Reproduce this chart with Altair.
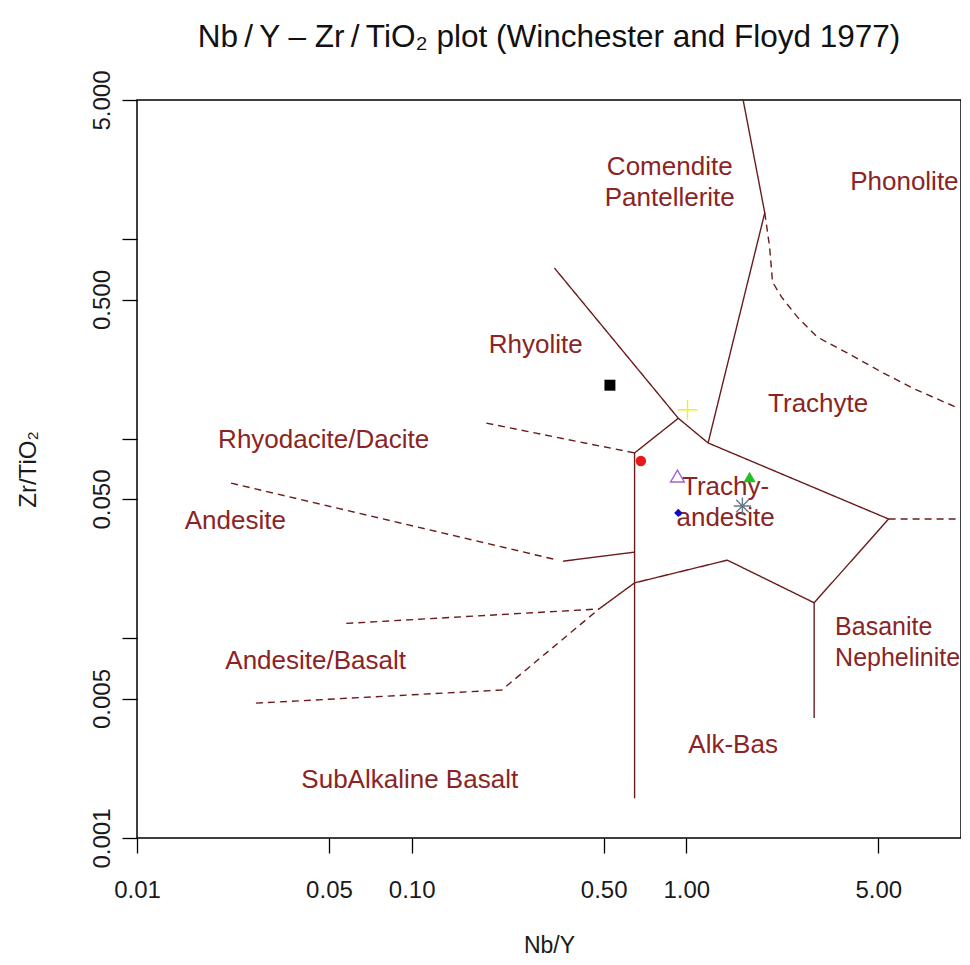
import altair as alt
import pandas as pd

# ---------------- boundary lines (Nb/Y, Zr/TiO2) ----------------
seg_names = ["rhyolite", "comendite", "subalk_vert", "andesite_solid", "alk_upper",
             "basanite_vert", "rhyodacite", "andesite", "andbas_upper", "andbas_lower",
             "trachyand_right", "phonolite"]
seg_styles = ["solid", "solid", "solid", "solid", "solid",
              "solid", "dashed", "dashed", "dashed", "dashed",
              "dashed", "dashed"]
seg_x = [
    [0.331, 0.935, 1.20],
    [1.20, 1.93, 1.61],
    [0.935, 0.648, 0.648],
    [0.356, 0.648],
    [0.481, 0.648, 1.41, 2.92, 5.45, 1.20],
    [2.92, 2.92],
    [0.187, 0.648],
    [0.0220, 0.328],
    [0.0578, 0.481],
    [0.0271, 0.213, 0.481],
    [5.45, 10.0],
    [1.93, 2.01, 2.06, 2.22, 2.54, 3.00, 3.85, 5.22, 6.89, 9.75],
]
seg_y = [
    [0.719, 0.127, 0.0955],
    [0.0955, 1.36, 5.0],
    [0.127, 0.0851, 0.00158],
    [0.0244, 0.0271],
    [0.01406, 0.0190, 0.0247, 0.0151, 0.0397, 0.0955],
    [0.0151, 0.00399],
    [0.120, 0.0851],
    [0.0601, 0.0250],
    [0.0119, 0.01406],
    [0.00474, 0.00552, 0.01406],
    [0.0397, 0.0397],
    [1.36, 0.917, 0.612, 0.515, 0.408, 0.324, 0.270, 0.214, 0.176, 0.143],
]

# ---------------- samples ----------------
pt_x = [0.527, 1.01, 0.683, 0.928, 1.70, 0.935, 1.60]
pt_y = [0.186, 0.140, 0.0775, 0.0652, 0.0645, 0.0426, 0.0461]
pt_shape = ["square", "M-1,0L1,0M0,-1L0,1", "circle", "triangle-up", "triangle-up", "diamond",
            "M-1,0L1,0M0,-1L0,1M-0.72,-0.72L0.72,0.72M-0.72,0.72L0.72,-0.72"]
pt_color = ["#000000", "#f0f020", "#e81818", "#a860c8", "#22c022", "#0a0ad0", "#6a7888"]
pt_size = [120, 380, 110, 190, 150, 70, 300]
pt_filled = [True, False, True, False, True, True, False]

# ---------------- field labels (y = first line for multi-line labels) ----------------
lab_text = ["Comendite\nPantellerite", "Phonolite", "Rhyolite", "Trachyte", "Rhyodacite/Dacite",
            "Andesite", "Trachy-\nandesite", "Andesite/Basalt", "Alk-Bas", "SubAlkaline Basalt"]
lab_x = [0.87, 6.22, 0.283, 3.02, 0.0478, 0.0228, 1.39, 0.0447, 1.48, 0.0984]
lab_y = [2.31, 1.94, 0.296, 0.150, 0.0989, 0.0388, 0.0574, 0.00771, 0.00292, 0.00195]
labl_text = ["Basanite\nNephelinite"]
labl_x = [3.48]
labl_y = [0.0114]

title_text = ["Nb\u2009/\u2009Y – Zr\u2009/\u2009TiO₂ plot (Winchester and Floyd 1977)"]

x_ticks = [0.01, 0.05, 0.1, 0.5, 1, 5]
y_ticks = [0.001, 0.005, 0.01, 0.05, 0.1, 0.5, 1, 5]

rows = []
for n, s, xs, ys in zip(seg_names, seg_styles, seg_x, seg_y):
    for i, (a, b) in enumerate(zip(xs, ys)):
        rows.append({"seg": n, "style": s, "ord": i, "x": a, "y": b})
lines_df = pd.DataFrame(rows)

pts_df = pd.DataFrame({"x": pt_x, "y": pt_y, "shape": pt_shape, "color": pt_color,
                       "size": pt_size, "filled": pt_filled})
lab_df = pd.DataFrame({"x": lab_x, "y": lab_y, "text": lab_text})
labl_df = pd.DataFrame({"x": labl_x, "y": labl_y, "text": labl_text})
title_df = pd.DataFrame({"t": title_text})

FONT = "Liberation Sans"
W, H = 824, 738
xscale = alt.Scale(type="log", domain=[0.01, 10], nice=False, zero=False)
yscale = alt.Scale(type="log", domain=[0.001, 5], nice=False, zero=False)

xaxis = alt.Axis(values=x_ticks, labelExpr="format(datum.value, '.2f')", title="Nb/Y",
                 grid=False, domain=False, tickSize=15, tickColor="black", tickWidth=1.3,
                 labelFont=FONT, labelFontSize=24, labelColor="#1a1a1a", labelPadding=25,
                 titleFont=FONT, titleFontSize=23, titleFontWeight="normal", titleColor="#1a1a1a",
                 titlePadding=32, labelFlush=False, labelOverlap=False)
yaxis = alt.Axis(values=y_ticks,
                 labelExpr="(datum.value == 0.001 || datum.value == 0.005 || datum.value == 0.05 || datum.value == 0.5 || datum.value == 5) ? format(datum.value, '.3f') : ''",
                 title="Zr/TiO₂", grid=False, domain=False, tickSize=15, tickColor="black", tickWidth=1.3,
                 labelFont=FONT, labelFontSize=24, labelColor="#1a1a1a", labelPadding=8,
                 labelAngle=270, labelAlign="center", labelBaseline="bottom",
                 titleFont=FONT, titleFontSize=24, titleFontWeight="normal", titleColor="#1a1a1a",
                 titlePadding=50, labelFlush=False, labelOverlap=False)

X = alt.X("x:Q", scale=xscale, axis=xaxis)
Y = alt.Y("y:Q", scale=yscale, axis=yaxis)
Xn = alt.X("x:Q", scale=xscale)
Yn = alt.Y("y:Q", scale=yscale)

line_layer = alt.Chart(lines_df).mark_line(color="#6a1c1c", strokeWidth=1.4).encode(
    x=X, y=Y, detail="seg:N", order="ord:Q",
    strokeDash=alt.StrokeDash("style:N", scale=alt.Scale(domain=["solid", "dashed"],
                                                          range=[[1, 0], [7, 5]]), legend=None),
)

filled_layer = alt.Chart(pts_df).transform_filter("datum.filled").mark_point(
    filled=True, opacity=1).encode(
    x=Xn, y=Yn,
    shape=alt.Shape("shape:N", scale=None),
    color=alt.Color("color:N", scale=None),
    size=alt.Size("size:Q", scale=None),
)
open_layer = alt.Chart(pts_df).transform_filter("!datum.filled").mark_point(
    filled=False, opacity=1, strokeWidth=1.4).encode(
    x=Xn, y=Yn,
    shape=alt.Shape("shape:N", scale=None),
    color=alt.Color("color:N", scale=None),
    size=alt.Size("size:Q", scale=None),
)

text_layer = alt.Chart(lab_df).mark_text(font=FONT, fontSize=26, color="#8b2424",
                                         align="center", baseline="middle", lineHeight=31,
                                         lineBreak="\n").encode(
    x=Xn, y=Yn, text="text:N")
textl_layer = alt.Chart(labl_df).mark_text(font=FONT, fontSize=25, color="#8b2424",
                                           align="left", baseline="middle", lineHeight=31,
                                           lineBreak="\n").encode(
    x=Xn, y=Yn, text="text:N")

title_layer = alt.Chart(title_df).mark_text(font=FONT, fontSize=31.5, color="#111111",
                                            align="center", baseline="alphabetic").encode(
    x=alt.value(W / 2), y=alt.value(-53), text="t:N")

chart = alt.layer(line_layer, text_layer, textl_layer, filled_layer, open_layer,
                  title_layer).properties(
    width=W, height=H,
    autosize=alt.AutoSizeParams(type="none"),
    padding={"left": 129, "top": 92, "right": 0, "bottom": 119},
    background="white",
).configure_view(stroke="black", strokeWidth=1.5)

chart.save("out.html", embed_options={"renderer": "svg", "actions": False})
